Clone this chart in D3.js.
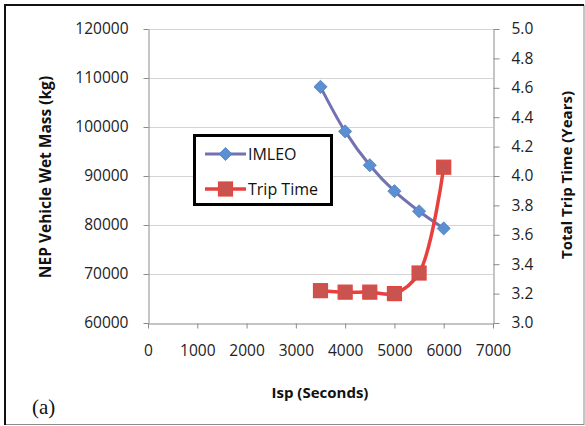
<!DOCTYPE html>
<html>
<head>
<meta charset="utf-8">
<script src="https://cdn.jsdelivr.net/npm/d3@7"></script>
<style>
  body { margin: 0; background: #fff; }
  svg { display: block; font-family: 'Open Sans', sans-serif; }
</style>
</head>
<body>
<div id="chart"></div>
<script>
// data
const isp = [3500, 4000, 4500, 5000, 5500, 6000];
const imleo = [108200, 99100, 92200, 86900, 82800, 79300];
const tripTime = [3.22, 3.21, 3.21, 3.20, 3.34, 4.06];
const massTicks = [60000, 70000, 80000, 90000, 100000, 110000, 120000];
const timeTicks = [3.0, 3.2, 3.4, 3.6, 3.8, 4.0, 4.2, 4.4, 4.6, 4.8, 5.0];
const ispTicks = [0, 1000, 2000, 3000, 4000, 5000, 6000, 7000];

const W = 585, H = 426;
const plot = { left: 148, right: 493, top: 29, bottom: 323 };

const svg = d3.select('#chart').append('svg')
  .attr('width', W)
  .attr('height', H);

// outer frame
svg.append('rect')
  .attr('x', 5.5).attr('y', 5.5)
  .attr('width', 578.5).attr('height', 419)
  .attr('fill', 'none').attr('stroke', '#8c8c8c').attr('stroke-width', 1);
svg.append('path')
  .attr('d', 'M5,425V5H584')
  .attr('fill', 'none').attr('stroke', '#111').attr('stroke-width', 2);

const x = d3.scaleLinear().domain([0, 7000]).range([plot.left, plot.right]);
const yMass = d3.scaleLinear().domain([60000, 120000]).range([plot.bottom, plot.top]);
const yTime = d3.scaleLinear().domain([3.0, 5.0]).range([plot.bottom, plot.top]);

// gridlines
svg.append('g')
  .selectAll('line')
  .data(massTicks.slice(1))
  .enter()
  .append('line')
  .attr('x1', plot.left).attr('x2', plot.right)
  .attr('y1', d => Math.round(yMass(d)) + 0.5)
  .attr('y2', d => Math.round(yMass(d)) + 0.5)
  .attr('stroke', '#d4d4d4');

// axes
const axisColor = '#8a8a8a';
const styleAxis = g => {
  g.select('.domain').attr('stroke', axisColor);
  g.selectAll('.tick line').attr('stroke', axisColor);
  g.selectAll('.tick text')
    .attr('fill', '#222')
    .style('font-family', "'Open Sans', sans-serif")
    .style('font-size', '15.5px');
};

svg.append('g')
  .attr('transform', `translate(${plot.left + 0.5},0)`)
  .call(d3.axisLeft(yMass).tickValues(massTicks).tickSize(5).tickPadding(15)
    .tickFormat(d3.format('d')).tickSizeOuter(0))
  .call(styleAxis);

svg.append('g')
  .attr('transform', `translate(${plot.right + 0.5},0)`)
  .call(d3.axisRight(yTime).tickValues(timeTicks).tickSize(6).tickPadding(12)
    .tickFormat(d3.format('.1f')).tickSizeOuter(0))
  .call(styleAxis);

svg.append('g')
  .attr('transform', `translate(0,${plot.bottom + 0.5})`)
  .call(d3.axisBottom(x).tickValues(ispTicks).tickSize(5).tickPadding(16)
    .tickFormat(d3.format('d')).tickSizeOuter(0))
  .call(styleAxis);

// axis titles
svg.append('text')
  .attr('transform', 'translate(51,177) rotate(-90)')
  .attr('text-anchor', 'middle')
  .style('font-weight', 'bold').style('font-size', '15.5px')
  .attr('fill', '#111')
  .text('NEP Vehicle Wet Mass (kg)');

svg.append('text')
  .attr('transform', 'translate(572,175) rotate(-90)')
  .attr('text-anchor', 'middle')
  .style('font-weight', 'bold').style('font-size', '15px')
  .attr('fill', '#111')
  .text('Total Trip Time (Years)');

svg.append('text')
  .attr('x', 320).attr('y', 398)
  .attr('text-anchor', 'middle')
  .style('font-weight', 'bold').style('font-size', '15px')
  .attr('fill', '#111')
  .text('Isp (Seconds)');

svg.append('text')
  .attr('x', 32).attr('y', 414)
  .style('font-family', "'Liberation Serif', 'DejaVu Serif', serif")
  .style('font-size', '21px')
  .attr('fill', '#111')
  .text('(a)');

// series
const massData = isp.map((v, i) => ({ isp: v, value: imleo[i] }));
const timeData = isp.map((v, i) => ({ isp: v, value: tripTime[i] }));

const massLine = d3.line()
  .x(d => x(d.isp)).y(d => yMass(d.value))
  .curve(d3.curveCatmullRom.alpha(0.5));
const timeLine = d3.line()
  .x(d => x(d.isp)).y(d => yTime(d.value))
  .curve(d3.curveCatmullRom.alpha(0.5));

const diamond = d3.symbol().type(d3.symbolDiamond2).size(110);
const blueLine = '#7272b3', blueMark = '#5a8fd1', blueEdge = '#4f7fc0';
const redLine = '#e8403f', redMark = '#c9534f', redEdge = '#e4453f';

svg.append('path')
  .datum(massData)
  .attr('fill', 'none')
  .attr('stroke', blueLine)
  .attr('stroke-width', 3)
  .attr('d', massLine);

svg.selectAll('.mk')
  .data(massData)
  .enter()
  .append('path')
  .attr('class', 'mk')
  .attr('transform', d => `translate(${x(d.isp)},${yMass(d.value)})`)
  .attr('d', diamond)
  .attr('fill', blueMark)
  .attr('stroke', blueEdge)
  .attr('stroke-width', 0.8);

svg.append('path')
  .datum(timeData)
  .attr('fill', 'none')
  .attr('stroke', redLine)
  .attr('stroke-width', 3.5)
  .attr('d', timeLine);

svg.selectAll('.sq')
  .data(timeData)
  .enter()
  .append('rect')
  .attr('class', 'sq')
  .attr('x', d => x(d.isp) - 7)
  .attr('y', d => yTime(d.value) - 7)
  .attr('width', 14).attr('height', 14)
  .attr('fill', redMark)
  .attr('stroke', redEdge)
  .attr('stroke-width', 1.2);

// legend
const legend = svg.append('g');
legend.append('rect')
  .attr('x', 194.5).attr('y', 135.5)
  .attr('width', 137).attr('height', 69)
  .attr('fill', '#fff')
  .attr('stroke', '#000')
  .attr('stroke-width', 3);

const legendItems = [
  { name: 'IMLEO', line: blueLine, y: 154 },
  { name: 'Trip Time', line: redLine, y: 189 }
];
legendItems.forEach((item, i) => {
  legend.append('line')
    .attr('x1', 205).attr('x2', 246)
    .attr('y1', item.y).attr('y2', item.y)
    .attr('stroke', item.line)
    .attr('stroke-width', i === 0 ? 3 : 3.5);
  if (i === 0) {
    legend.append('path')
      .attr('transform', `translate(225.5,${item.y})`)
      .attr('d', diamond)
      .attr('fill', blueMark).attr('stroke', blueEdge).attr('stroke-width', 0.8);
  } else {
    legend.append('rect')
      .attr('x', 218.5).attr('y', item.y - 7)
      .attr('width', 14).attr('height', 14)
      .attr('fill', redMark).attr('stroke', redEdge).attr('stroke-width', 1.2);
  }
  legend.append('text')
    .attr('x', 248).attr('y', item.y)
    .attr('dy', '0.35em')
    .style('font-size', '16px')
    .attr('fill', '#111')
    .text(item.name);
});
</script>
</body>
</html>
